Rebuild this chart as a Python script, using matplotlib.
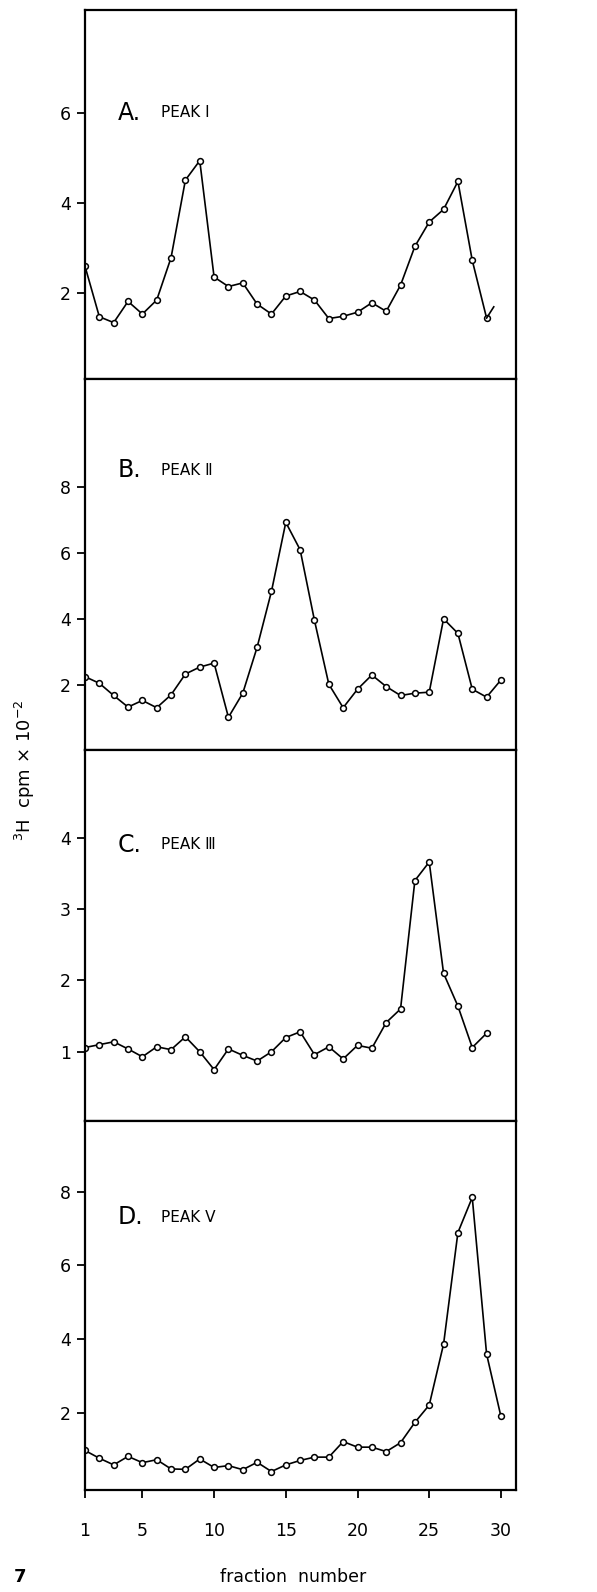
import numpy as np
import matplotlib
matplotlib.use("Agg")
import matplotlib.pyplot as plt

# fraction numbers
fracoes = list(range(1, 31))

# Painel A - pico I (ultimo trecho da linha sem marcador)
pico_a = [2.60, 1.48, 1.35, 1.82, 1.54, 1.85, 2.79, 4.51, 4.94, 2.36,
          2.15, 2.23, 1.76, 1.54, 1.94, 2.04, 1.85, 1.44, 1.49, 1.58,
          1.79, 1.60, 2.18, 3.04, 3.58, 3.86, 4.48, 2.73, 1.45]
cauda_a_x = [29, 29.5]
cauda_a_y = [1.45, 1.70]

# Painel B - pico II
pico_b = [2.25, 2.05, 1.68, 1.33, 1.53, 1.31, 1.70, 2.33, 2.54, 2.66,
          1.02, 1.75, 3.14, 4.83, 6.92, 6.09, 3.95, 2.02, 1.31, 1.87,
          2.30, 1.95, 1.68, 1.75, 1.78, 4.00, 3.56, 1.87, 1.63, 2.15]

# Painel C - pico III
pico_c = [1.06, 1.10, 1.14, 1.04, 0.93, 1.07, 1.03, 1.21, 1.00, 0.75,
          1.04, 0.95, 0.87, 1.00, 1.20, 1.28, 0.96, 1.07, 0.90, 1.09,
          1.05, 1.41, 1.60, 3.40, 3.66, 2.10, 1.64, 1.06, 1.26]

# Painel D - pico V
pico_d = [0.99, 0.78, 0.60, 0.83, 0.66, 0.74, 0.49, 0.48, 0.76, 0.53,
          0.58, 0.47, 0.67, 0.42, 0.60, 0.72, 0.81, 0.81, 1.23, 1.08,
          1.08, 0.96, 1.20, 1.75, 2.22, 3.87, 6.89, 7.84, 3.60, 1.91]

letras = ["A.", "B.", "C.", "D."]
nomes = ["PEAK \u2160", "PEAK \u2161", "PEAK \u2162", "PEAK \u2164"]
yticks = [[2, 4, 6], [2, 4, 6, 8], [1, 2, 3, 4], [2, 4, 6, 8]]
ylims = [(0.1, 8.28), (0.03, 11.26), (0.03, 5.23), (-0.08, 9.91)]
pos_texto = [6.0, 8.5, 3.9, 7.3]
xticks = [1, 5, 10, 15, 20, 25, 30]

W, H = 597, 1592
fig = plt.figure(figsize=(W / 100, H / 100), dpi=100)
plt.rcParams['font.family'] = ['DejaVu Sans']

esq, dir_ = 85 / W, 516 / W
limites = [(10, 379), (379, 750), (750, 1121), (1121, 1490)]
series = [pico_a, pico_b, pico_c, pico_d]

for i in range(4):
    topo, base = limites[i]
    ax = fig.add_axes([esq, 1 - base / H, dir_ - esq, (base - topo) / H])
    dados = series[i]
    ax.plot(fracoes[:len(dados)], dados, '-', color='black', lw=1.2,
            marker='o', ms=4.2, mfc='white', mec='black', mew=1.1)
    if i == 0:
        ax.plot(cauda_a_x, cauda_a_y, '-', color='black', lw=1.2)
    ax.set_xlim(1, 31.05)
    ax.set_ylim(*ylims[i])
    ax.set_yticks(yticks[i])
    ax.set_xticks(xticks)
    ax.tick_params(axis='both', direction='out', width=1.3, length=6,
                   labelsize=12.5, color='black')
    ax.tick_params(axis='y', pad=4)
    ax.tick_params(axis='x', pad=17)
    if i < 3:
        ax.set_xticklabels([])
    for s in ax.spines.values():
        s.set_linewidth(1.6)
    ax.text(3.3, pos_texto[i], letras[i], fontsize=17, va='center', ha='left')
    ax.text(6.3, pos_texto[i], nomes[i], fontsize=11, va='center', ha='left')

fig.text(25 / W, 1 - 770 / H, r'$^{3}$H  cpm $\times$ 10$^{-2}$',
         rotation=90, fontsize=13, ha='center', va='center')
fig.text(293 / W, 1 - 1577 / H, 'fraction  number', fontsize=12.5,
         ha='center', va='center')
fig.text(20 / W, 1 - 1577 / H, '7', fontsize=13, fontweight='bold',
         ha='center', va='center')

fig.savefig('out.png', dpi=100)
